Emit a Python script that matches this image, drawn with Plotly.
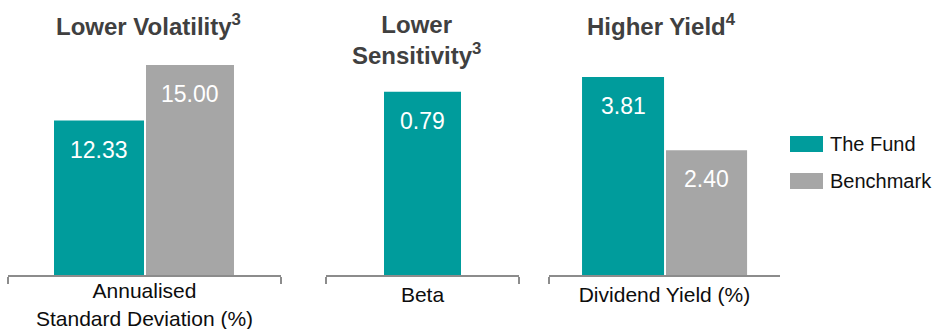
import plotly.graph_objects as go

# ---- data ----
metrics = ["Annualised<br>Standard Deviation (%)", "Beta", "Dividend Yield (%)"]
fund = [12.33, 0.79, 3.81]
benchmark = [15.00, None, 2.40]
panel_titles = ["Lower Volatility<sup>3</sup>", "Lower<br>Sensitivity<sup>3</sup>", "Higher Yield<sup>4</sup>"]
series_names = ["The Fund", "Benchmark"]

# ---- style / layout constants ----
W, H = 933, 329
TEAL = "#009C9C"
GREY = "#A6A6A6"
FONT = "Liberation Sans, Arial, sans-serif"
x_domains = [[8 / W, 281 / W], [326 / W, 519 / W], [549 / W, 780 / W]]
y_domain = [54 / H, 1.0]
y_ranges = [[4.93, 18.11], [0, 1.185], [0, 5.29]]
label_standoff = [-4, 0, 0]
# bar offset / width in category units, per panel: (fund, benchmark)
bar_geom = [
    ((-0.3315, 0.3297), (0.0055, 0.3223)),
    ((-0.1995, 0.399), None),
    ((-0.357, 0.355), (0.0065, 0.351)),
]
title_pos = [(148, 25), (416, 40), (661, 25)]

fig = go.Figure()
annotations = []
for i, m in enumerate(metrics):
    xa = "x" if i == 0 else f"x{i + 1}"
    ya = "y" if i == 0 else f"y{i + 1}"
    for s, (vals, color) in enumerate([(fund, TEAL), (benchmark, GREY)]):
        v = vals[i]
        if v is None:
            continue
        off, wid = bar_geom[i][s]
        fig.add_trace(go.Bar(
            x=[m], y=[v], name=series_names[s], marker=dict(color=color, line=dict(width=0)),
            offset=off, width=wid, xaxis=xa, yaxis=ya, showlegend=False,
            hoverinfo="skip",
        ))
        annotations.append(dict(
            x=off + wid / 2, y=v, xref=xa, yref=ya, text=f"{v:.2f}",
            showarrow=False, yanchor="top", xanchor="center", yshift=-14,
            font=dict(family=FONT, size=23, color="white"),
        ))
    tx, ty = title_pos[i]
    annotations.append(dict(
        x=tx / W, y=1 - ty / H, xref="paper", yref="paper", text=f"<b>{panel_titles[i]}</b>",
        showarrow=False, xanchor="center", yanchor="middle",
        font=dict(family=FONT, size=24, color="#404040"),
    ))

# manual legend
legend_items = [(series_names[0], TEAL, 144), (series_names[1], GREY, 181)]
shapes = []
for name, color, cy in legend_items:
    shapes.append(dict(type="rect", xref="paper", yref="paper",
                       x0=790 / W, x1=823 / W, y0=1 - (cy + 8) / H, y1=1 - (cy - 8) / H,
                       fillcolor=color, line=dict(width=0)))
    annotations.append(dict(x=828 / W, y=1 - cy / H, xref="paper", yref="paper", text=name,
                            showarrow=False, xanchor="left", yanchor="middle",
                            font=dict(family=FONT, size=20, color="#111111")))

layout = dict(
    width=W, height=H, margin=dict(l=0, r=0, t=0, b=0, autoexpand=False),
    paper_bgcolor="white", plot_bgcolor="white", barmode="overlay",
    annotations=annotations, shapes=shapes, showlegend=False,
)
for i in range(3):
    k = "" if i == 0 else str(i + 1)
    layout[f"xaxis{k}"] = dict(
        domain=x_domains[i], anchor=f"y{k}", type="category", range=[-0.5, 0.5],
        automargin=False, ticklabelstandoff=label_standoff[i],
        showline=True, linecolor="#8C8C8C", linewidth=2, ticks="outside", tickson="boundaries",
        ticklen=7, tickwidth=2, tickcolor="#8C8C8C", showgrid=False, zeroline=False,
        tickfont=dict(family=FONT, size=21, color="#0D0D0D"), fixedrange=True,
    )
    layout[f"yaxis{k}"] = dict(
        domain=y_domain, anchor=f"x{k}", range=y_ranges[i], showticklabels=False,
        automargin=False,
        showgrid=False, zeroline=False, showline=False, ticks="", fixedrange=True,
    )
fig.update_layout(**layout)
fig.write_html("out.html")
